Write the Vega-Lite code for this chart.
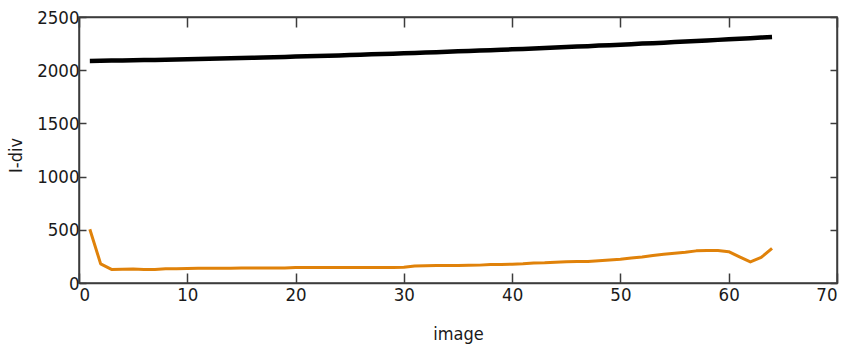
{
  "$schema": "https://vega.github.io/schema/vega-lite/v6.json",
  "autosize": {"type": "none"},
  "width": 758,
  "height": 266,
  "padding": {"left": 79, "top": 17, "right": 11, "bottom": 63},
  "background": "white",
  "config": {
    "view": {"stroke": "#3c3c3c", "strokeWidth": 1.5},
    "axis": {
      "grid": false,
      "domainColor": "#3c3c3c",
      "domainWidth": 1.5,
      "tickColor": "#3c3c3c",
      "tickWidth": 1.5,
      "labelFont": "DejaVu Sans Condensed",
      "labelFontSize": 18.5,
      "labelColor": "#1a1a1a",
      "titleFont": "DejaVu Sans Condensed",
      "titleFontSize": 18,
      "titleFontWeight": "normal",
      "titleColor": "#1a1a1a",
      "format": "d"
    }
  },
  "data": {"values": [
    {"image": 1, "value": 2087, "series": "A"},
    {"image": 2, "value": 2088, "series": "A"},
    {"image": 3, "value": 2090, "series": "A"},
    {"image": 4, "value": 2092, "series": "A"},
    {"image": 5, "value": 2093, "series": "A"},
    {"image": 6, "value": 2095, "series": "A"},
    {"image": 7, "value": 2097, "series": "A"},
    {"image": 8, "value": 2099, "series": "A"},
    {"image": 9, "value": 2101, "series": "A"},
    {"image": 10, "value": 2103, "series": "A"},
    {"image": 11, "value": 2105, "series": "A"},
    {"image": 12, "value": 2108, "series": "A"},
    {"image": 13, "value": 2110, "series": "A"},
    {"image": 14, "value": 2112, "series": "A"},
    {"image": 15, "value": 2115, "series": "A"},
    {"image": 16, "value": 2117, "series": "A"},
    {"image": 17, "value": 2120, "series": "A"},
    {"image": 18, "value": 2122, "series": "A"},
    {"image": 19, "value": 2125, "series": "A"},
    {"image": 20, "value": 2128, "series": "A"},
    {"image": 21, "value": 2131, "series": "A"},
    {"image": 22, "value": 2133, "series": "A"},
    {"image": 23, "value": 2136, "series": "A"},
    {"image": 24, "value": 2139, "series": "A"},
    {"image": 25, "value": 2143, "series": "A"},
    {"image": 26, "value": 2146, "series": "A"},
    {"image": 27, "value": 2149, "series": "A"},
    {"image": 28, "value": 2152, "series": "A"},
    {"image": 29, "value": 2155, "series": "A"},
    {"image": 30, "value": 2159, "series": "A"},
    {"image": 31, "value": 2162, "series": "A"},
    {"image": 32, "value": 2166, "series": "A"},
    {"image": 33, "value": 2169, "series": "A"},
    {"image": 34, "value": 2173, "series": "A"},
    {"image": 35, "value": 2177, "series": "A"},
    {"image": 36, "value": 2180, "series": "A"},
    {"image": 37, "value": 2184, "series": "A"},
    {"image": 38, "value": 2188, "series": "A"},
    {"image": 39, "value": 2192, "series": "A"},
    {"image": 40, "value": 2196, "series": "A"},
    {"image": 41, "value": 2200, "series": "A"},
    {"image": 42, "value": 2204, "series": "A"},
    {"image": 43, "value": 2209, "series": "A"},
    {"image": 44, "value": 2213, "series": "A"},
    {"image": 45, "value": 2217, "series": "A"},
    {"image": 46, "value": 2222, "series": "A"},
    {"image": 47, "value": 2226, "series": "A"},
    {"image": 48, "value": 2231, "series": "A"},
    {"image": 49, "value": 2235, "series": "A"},
    {"image": 50, "value": 2240, "series": "A"},
    {"image": 51, "value": 2245, "series": "A"},
    {"image": 52, "value": 2250, "series": "A"},
    {"image": 53, "value": 2254, "series": "A"},
    {"image": 54, "value": 2259, "series": "A"},
    {"image": 55, "value": 2264, "series": "A"},
    {"image": 56, "value": 2269, "series": "A"},
    {"image": 57, "value": 2274, "series": "A"},
    {"image": 58, "value": 2280, "series": "A"},
    {"image": 59, "value": 2285, "series": "A"},
    {"image": 60, "value": 2290, "series": "A"},
    {"image": 61, "value": 2296, "series": "A"},
    {"image": 62, "value": 2301, "series": "A"},
    {"image": 63, "value": 2307, "series": "A"},
    {"image": 64, "value": 2312, "series": "A"},
    {"image": 1, "value": 505, "series": "B"},
    {"image": 2, "value": 180, "series": "B"},
    {"image": 3, "value": 128, "series": "B"},
    {"image": 4, "value": 130, "series": "B"},
    {"image": 5, "value": 132, "series": "B"},
    {"image": 6, "value": 128, "series": "B"},
    {"image": 7, "value": 127, "series": "B"},
    {"image": 8, "value": 133, "series": "B"},
    {"image": 9, "value": 135, "series": "B"},
    {"image": 10, "value": 137, "series": "B"},
    {"image": 11, "value": 138, "series": "B"},
    {"image": 12, "value": 138, "series": "B"},
    {"image": 13, "value": 139, "series": "B"},
    {"image": 14, "value": 139, "series": "B"},
    {"image": 15, "value": 140, "series": "B"},
    {"image": 16, "value": 140, "series": "B"},
    {"image": 17, "value": 141, "series": "B"},
    {"image": 18, "value": 141, "series": "B"},
    {"image": 19, "value": 142, "series": "B"},
    {"image": 20, "value": 146, "series": "B"},
    {"image": 21, "value": 146, "series": "B"},
    {"image": 22, "value": 146, "series": "B"},
    {"image": 23, "value": 146, "series": "B"},
    {"image": 24, "value": 146, "series": "B"},
    {"image": 25, "value": 146, "series": "B"},
    {"image": 26, "value": 146, "series": "B"},
    {"image": 27, "value": 146, "series": "B"},
    {"image": 28, "value": 146, "series": "B"},
    {"image": 29, "value": 146, "series": "B"},
    {"image": 30, "value": 147, "series": "B"},
    {"image": 31, "value": 160, "series": "B"},
    {"image": 32, "value": 162, "series": "B"},
    {"image": 33, "value": 164, "series": "B"},
    {"image": 34, "value": 165, "series": "B"},
    {"image": 35, "value": 165, "series": "B"},
    {"image": 36, "value": 166, "series": "B"},
    {"image": 37, "value": 168, "series": "B"},
    {"image": 38, "value": 174, "series": "B"},
    {"image": 39, "value": 175, "series": "B"},
    {"image": 40, "value": 176, "series": "B"},
    {"image": 41, "value": 180, "series": "B"},
    {"image": 42, "value": 188, "series": "B"},
    {"image": 43, "value": 190, "series": "B"},
    {"image": 44, "value": 195, "series": "B"},
    {"image": 45, "value": 200, "series": "B"},
    {"image": 46, "value": 201, "series": "B"},
    {"image": 47, "value": 203, "series": "B"},
    {"image": 48, "value": 210, "series": "B"},
    {"image": 49, "value": 216, "series": "B"},
    {"image": 50, "value": 224, "series": "B"},
    {"image": 51, "value": 235, "series": "B"},
    {"image": 52, "value": 245, "series": "B"},
    {"image": 53, "value": 258, "series": "B"},
    {"image": 54, "value": 270, "series": "B"},
    {"image": 55, "value": 280, "series": "B"},
    {"image": 56, "value": 288, "series": "B"},
    {"image": 57, "value": 302, "series": "B"},
    {"image": 58, "value": 306, "series": "B"},
    {"image": 59, "value": 305, "series": "B"},
    {"image": 60, "value": 294, "series": "B"},
    {"image": 61, "value": 245, "series": "B"},
    {"image": 62, "value": 198, "series": "B"},
    {"image": 63, "value": 240, "series": "B"},
    {"image": 64, "value": 326, "series": "B"}
  ]},
  "layer": [
    {
      "mark": {"type": "line", "strokeJoin": "round", "strokeCap": "butt"},
      "encoding": {
        "x": {"field": "image", "type": "quantitative", "scale": {"domain": [0, 70], "nice": false}, "title": "image",
          "axis": {"orient": "bottom", "values": [0,10,20,30,40,50,60,70], "tickSize": -10, "labelPadding": 12, "titleY": 56, "titleBaseline": "alphabetic"}},
        "y": {"field": "value", "type": "quantitative", "scale": {"domain": [0, 2500], "nice": false}, "title": "I-div",
          "axis": {"orient": "left", "values": [0,500,1000,1500,2000,2500], "tickSize": -7, "labelPadding": 7, "titleX": -58, "titleY": 138, "titleBaseline": "alphabetic", "titleAngle": -90}},
        "color": {"field": "series", "type": "nominal", "scale": {"domain": ["A", "B"], "range": ["#000000", "#E0820A"]}, "legend": null},
        "size": {"field": "series", "type": "nominal", "scale": {"domain": ["A", "B"], "range": [4.5, 3]}, "legend": null}
      }
    },
    {
      "mark": {"type": "line", "opacity": 0},
      "encoding": {
        "x": {"field": "image", "type": "quantitative", "axis": {"orient": "top", "values": [0,10,20,30,40,50,60,70], "tickSize": -10, "labels": false, "title": null}},
        "y": {"field": "value", "type": "quantitative", "axis": {"orient": "right", "values": [0,500,1000,1500,2000,2500], "tickSize": -7, "labels": false, "title": null}},
        "detail": {"field": "series"}
      }
    }
  ],
  "resolve": {"axis": {"x": "independent", "y": "independent"}}
}
